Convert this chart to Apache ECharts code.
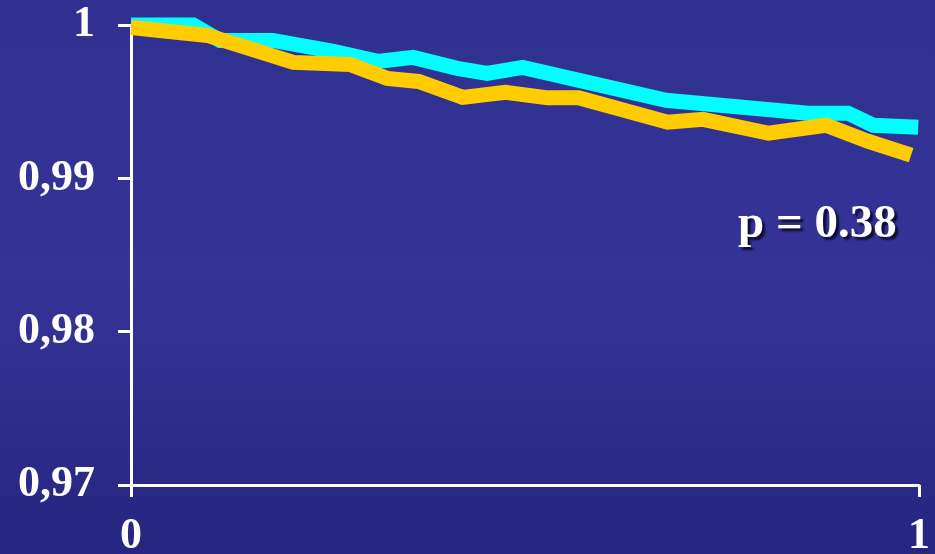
<!DOCTYPE html>
<html>
<head>
<meta charset="utf-8">
<script src="https://cdn.jsdelivr.net/npm/echarts@6/dist/echarts.min.js"></script>
<style>
  html, body { margin: 0; padding: 0; }
  #main { width: 935px; height: 554px; }
</style>
</head>
<body>
<div id="main"></div>
<script>
// survival curves, x = follow-up (0..1), y = cumulative survival
var cyanX = [0, 0.079, 0.113, 0.180, 0.257, 0.313, 0.358, 0.414, 0.452, 0.497, 0.679, 0.859, 0.910, 0.942, 0.999];
var cyanY = [1.0, 1.0, 0.99899, 0.99899, 0.99828, 0.99763, 0.99789, 0.99717, 0.99684, 0.99723, 0.99509, 0.99424, 0.99424, 0.99346, 0.99333];

var goldX = [0, 0.097, 0.206, 0.278, 0.325, 0.365, 0.421, 0.475, 0.529, 0.568, 0.681, 0.726, 0.809, 0.882, 0.935, 0.990];
var goldY = [0.99984, 0.99932, 0.99756, 0.99743, 0.99652, 0.99632, 0.99528, 0.99561, 0.99525, 0.99525, 0.99366, 0.99385, 0.99294, 0.99346, 0.99242, 0.99151];

var yTicks = [0.97, 0.98, 0.99, 1];
var xTicks = [0, 1];
var pText = "p = 0.38";

function pairs(xs, ys) {
  return xs.map(function (x, i) { return [x, ys[i]]; });
}

var labelFont = {
  color: "#fff",
  fontFamily: "Liberation Serif",
  fontWeight: "bold",
  fontSize: 44
};

var myChart = echarts.init(document.getElementById("main"));
var option = {
  backgroundColor: new echarts.graphic.LinearGradient(0, 0, 0, 1, [
    { offset: 0, color: "#303090" },
    { offset: 0.5, color: "#343497" },
    { offset: 1, color: "#252680" }
  ]),
  animation: false,
  grid: { left: 131, right: 16, top: 25, bottom: 69, outerBoundsMode: "none" },
  xAxis: {
    type: "value",
    min: xTicks[0],
    max: xTicks[xTicks.length - 1],
    interval: 1,
    splitLine: { show: false },
    axisLine: { lineStyle: { color: "#fff", width: 3 } },
    axisTick: { length: 12, lineStyle: { color: "#fff", width: 3 } },
    axisLabel: Object.assign({ margin: 30 }, labelFont)
  },
  yAxis: {
    type: "value",
    min: yTicks[0],
    max: yTicks[yTicks.length - 1],
    interval: 0.01,
    splitLine: { show: false },
    axisLine: { show: true, lineStyle: { color: "#fff", width: 3 } },
    axisTick: { show: true, length: 13, lineStyle: { color: "#fff", width: 3 } },
    axisLabel: Object.assign({
      margin: 36,
      formatter: function (v) {
        if (Math.abs(v - 1) < 1e-9) return "1";
        return v.toFixed(2).replace(".", ",");
      }
    }, labelFont)
  },
  series: [
    {
      type: "line",
      data: pairs(cyanX, cyanY),
      showSymbol: false,
      clip: false,
      lineStyle: { color: "#00ffff", width: 15, cap: "butt", join: "miter" }
    },
    {
      type: "line",
      data: pairs(goldX, goldY),
      showSymbol: false,
      clip: false,
      lineStyle: { color: "#ffcc00", width: 15, cap: "butt", join: "miter" }
    }
  ],
  graphic: [
    {
      type: "text",
      left: 738,
      top: 201,
      style: {
        text: pText,
        fill: "#fff",
        font: "bold 47px 'Liberation Serif'",
        textShadowColor: "rgba(10,10,40,0.9)",
        textShadowOffsetX: 3,
        textShadowOffsetY: 3,
        textShadowBlur: 2
      }
    }
  ]
};
myChart.setOption(option);
</script>
</body>
</html>
